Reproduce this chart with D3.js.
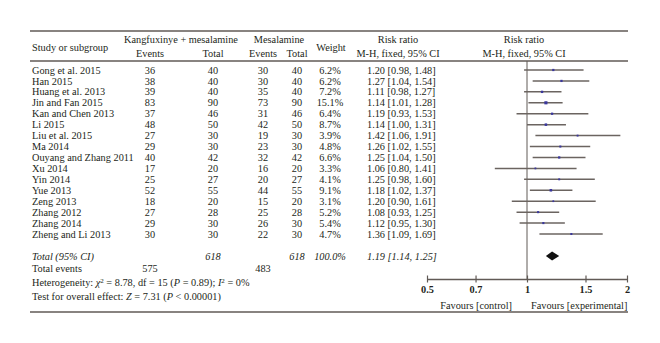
<!DOCTYPE html>
<html><head><meta charset="utf-8">
<script src="https://cdn.jsdelivr.net/npm/d3@7/dist/d3.min.js"></script>
<style>
body{margin:0;background:#fff}
text{font-family:"Liberation Serif","Times New Roman",serif;font-size:10.3px;fill:#231f20}
</style></head>
<body><svg id="c" width="660" height="343"></svg>
<script>
const studies=["Gong et al. 2015","Han 2015","Huang et al. 2013","Jin and Fan 2015","Kan and Chen 2013","Li 2015","Liu et al. 2015","Ma 2014","Ouyang and Zhang 2011","Xu 2014","Yin 2014","Yue 2013","Zeng 2013","Zhang 2012","Zhang 2014","Zheng and Li 2013"];
const expEvents=[36,38,39,83,37,48,27,29,40,17,25,52,18,27,29,30];
const expTotal=[40,40,40,90,46,50,30,30,42,20,27,55,20,28,30,30];
const ctrlEvents=[30,30,35,73,31,42,19,23,32,16,20,44,15,25,26,22];
const ctrlTotal=[40,40,40,90,46,50,30,30,42,20,27,55,20,28,30,30];
const weights=[6.2,6.2,7.2,15.1,6.4,8.7,3.9,4.8,6.6,3.3,4.1,9.1,3.1,5.2,5.4,4.7];
const rr=[1.20,1.27,1.11,1.14,1.19,1.14,1.42,1.26,1.25,1.06,1.25,1.18,1.20,1.08,1.12,1.36];
const lo=[0.98,1.04,0.98,1.01,0.93,1.00,1.06,1.02,1.04,0.80,0.98,1.02,0.90,0.93,0.95,1.09];
const hi=[1.48,1.54,1.27,1.28,1.53,1.31,1.91,1.55,1.50,1.41,1.60,1.37,1.61,1.25,1.30,1.69];
const total={rr:1.19,lo:1.14,hi:1.25,expTotal:618,ctrlTotal:618,weight:"100.0%",expEvents:575,ctrlEvents:483};
const axisTicks=[0.5,0.7,1,1.5,2];

const svg=d3.select("#c");
const x=d3.scaleLog().domain([0.5,2]).range([427,627]);
const y=d3.scaleLinear().domain([0,studies.length-1]).range([70,234]);
const lineCol="#615a56";
const fmt=d3.format(".2f");

// rules
[[31,1.6],[61,1.3],[312,1.6]].forEach(([yy,w])=>{
  svg.append("line").attr("x1",30).attr("x2",628).attr("y1",yy).attr("y2",yy)
    .attr("stroke",lineCol).attr("stroke-width",w);
});

// headers
const hdr=(t,xx,yy,anchor)=>svg.append("text").attr("x",xx).attr("y",yy).attr("dy","0.35em").attr("text-anchor",anchor||"middle").text(t);
hdr("Study or subgroup",32,47,"start");
hdr("Kangfuxinye  +  mesalamine",181,39);
hdr("Events",150,53);hdr("Total",213,53);
hdr("Mesalamine",279,39);
hdr("Events",263,53);hdr("Total",297,53);
hdr("Weight",331,47);
hdr("Risk ratio",398,39);hdr("M-H, fixed, 95% CI",398,53);
hdr("Risk ratio",524,39);hdr("M-H, fixed, 95% CI",524,53);

// rows
const rows=svg.append("g");
studies.forEach((s,i)=>{
  const yy=y(i);
  const t=(v,xx,anchor)=>rows.append("text").attr("x",xx).attr("y",yy).attr("dy","0.35em").attr("text-anchor",anchor||"middle").text(v);
  t(s,32,"start");
  t(expEvents[i],150);t(expTotal[i],213);
  t(ctrlEvents[i],263);t(ctrlTotal[i],297);
  t(weights[i].toFixed(1)+"%",330);
  t(`${fmt(rr[i])} [${fmt(lo[i])}, ${fmt(hi[i])}]`,367,"start");
});

// vertical line at 1
svg.append("line").attr("x1",x(1)).attr("x2",x(1)).attr("y1",61).attr("y2",279)
  .attr("stroke",lineCol).attr("stroke-width",1);

// CIs
svg.append("g").selectAll("line").data(studies).join("line")
  .attr("x1",(d,i)=>x(lo[i])).attr("x2",(d,i)=>x(hi[i]))
  .attr("y1",(d,i)=>y(i)).attr("y2",(d,i)=>y(i))
  .attr("stroke","#6b6460").attr("stroke-width",1.5);
const sz=w=>0.6+Math.sqrt(w)*0.65;
svg.append("g").selectAll("rect").data(studies).join("rect")
  .attr("x",(d,i)=>x(rr[i])-sz(weights[i])/2)
  .attr("y",(d,i)=>y(i)-sz(weights[i])/2)
  .attr("width",(d,i)=>sz(weights[i]))
  .attr("height",(d,i)=>sz(weights[i]))
  .attr("fill","#3a379c");

// total row
const ty=256;
const ti=(v,xx,anchor)=>svg.append("text").attr("x",xx).attr("y",ty).attr("dy","0.35em").attr("text-anchor",anchor||"middle").attr("font-style","italic").text(v);
ti("Total (95% CI)",32,"start");
ti(total.expTotal,213);ti(total.ctrlTotal,297);ti(total.weight,330);
ti(`${fmt(total.rr)} [${fmt(total.lo)}, ${fmt(total.hi)}]`,367,"start");
svg.append("path")
  .attr("d",`M${x(total.lo)},${ty}L${x(total.rr)},${ty-4.5}L${x(total.hi)},${ty}L${x(total.rr)},${ty+4.5}Z`)
  .attr("fill","#111");

// total events
const te=268;
svg.append("text").attr("x",32).attr("y",te).attr("dy","0.35em").text("Total events");
svg.append("text").attr("x",150).attr("y",te).attr("dy","0.35em").attr("text-anchor","middle").text(total.expEvents);
svg.append("text").attr("x",263).attr("y",te).attr("dy","0.35em").attr("text-anchor","middle").text(total.ctrlEvents);

// heterogeneity
const h=svg.append("text").attr("x",32).attr("y",282.5).attr("dy","0.35em");
h.append("tspan").text("Heterogeneity: ");
h.append("tspan").attr("font-style","italic").text("χ");
h.append("tspan").attr("font-size","7px").attr("dy","-0.45em").text("2");
h.append("tspan").attr("dy","0.32em").text(" = 8.78, df = 15 (");
h.append("tspan").attr("font-style","italic").text("P");
h.append("tspan").text(" = 0.89); ");
h.append("tspan").attr("font-style","italic").text("I");
h.append("tspan").attr("font-size","7px").attr("dy","-0.45em").text("2");
h.append("tspan").attr("dy","0.32em").text(" = 0%");

const z=svg.append("text").attr("x",32).attr("y",296).attr("dy","0.35em");
z.append("tspan").text("Test for overall effect: ");
z.append("tspan").attr("font-style","italic").text("Z");
z.append("tspan").text(" = 7.31 (");
z.append("tspan").attr("font-style","italic").text("P");
z.append("tspan").text(" < 0.00001)");

// axis
const ax=svg.append("g").attr("transform","translate(0,279)")
  .call(d3.axisBottom(x).tickValues(axisTicks).tickFormat(d3.format("")).tickSizeInner(3.5).tickSizeOuter(0).tickPadding(5));
ax.select(".domain").attr("stroke",lineCol).attr("stroke-width",1.3);
ax.selectAll(".tick line").attr("y1",-3.5).attr("y2",3.5).attr("stroke",lineCol).attr("stroke-width",1.2);
ax.selectAll(".tick text").attr("font-family","Liberation Serif, serif").attr("font-size","10.3px").attr("font-weight","bold").attr("fill","#231f20").attr("y",6.5);

svg.append("text").attr("x",512).attr("y",305).attr("dy","0.35em").attr("text-anchor","end").text("Favours [control]");
svg.append("text").attr("x",531).attr("y",305).attr("dy","0.35em").attr("text-anchor","start").text("Favours [experimental]");
</script></body></html>
